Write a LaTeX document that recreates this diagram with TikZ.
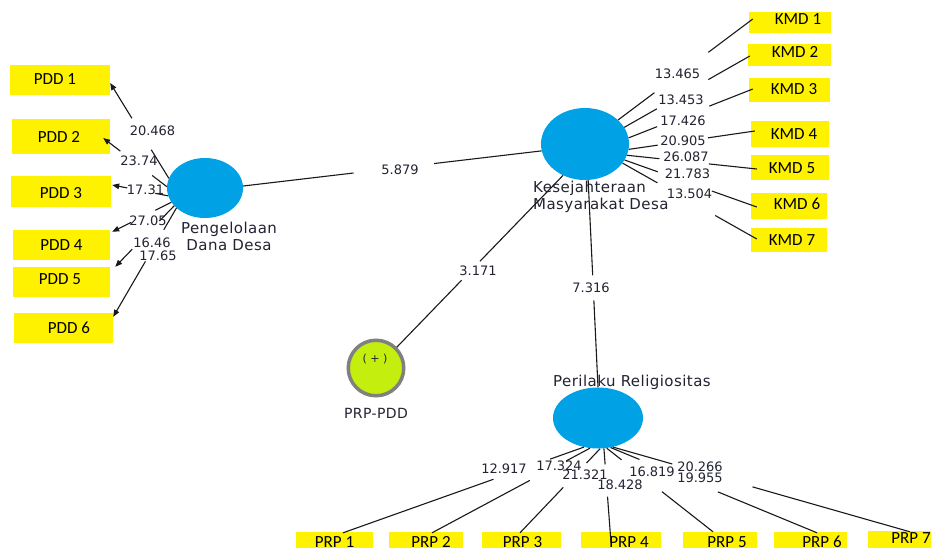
\documentclass[tikz,border=0pt]{standalone}
\usepackage{fontspec}
\usetikzlibrary{shapes.geometric,arrows.meta,calc}
\newfontfamily\numfont{DejaVu Sans}
\newfontfamily\lblfont[LetterSpace=3]{DejaVu Sans}
\newfontfamily\boxfont{Carlito}
\definecolor{lvblue}{RGB}{0,162,229}
\definecolor{indyel}{RGB}{255,242,0}
\definecolor{modlime}{RGB}{196,238,14}
\definecolor{modgray}{RGB}{128,128,128}
\definecolor{txtdark}{RGB}{35,35,50}
\definecolor{lncol}{RGB}{25,25,25}
\newcommand\bt[3]{\hspace*{#1}\raisebox{#2}{#3}\hspace*{-#1}}
\newcommand\gapln[5][]{\draw[ln,#1] (#2) -- ($(#2)!#4!(#3)$) ($(#2)!#5!(#3)$) -- (#3);}
\tikzset{
  ln/.style={draw=lncol, line width=1.1pt},
  arr/.style={-{Triangle[length=7pt,width=5.5pt]}},
  lv/.style={ellipse, fill=lvblue, draw=none, inner sep=0pt},
  ind/.style={rectangle, fill=indyel, draw=none, inner sep=0pt,
    font=\boxfont\fontsize{17}{17}\selectfont, text=black,
    text height=11pt, text depth=0pt},
  num/.style={font=\numfont\fontsize{13}{13}\selectfont, text=txtdark, inner sep=0pt},
  cname/.style={font=\lblfont\fontsize{15}{17}\selectfont, text=txtdark, inner sep=0pt},
}
\begin{document}
\begin{tikzpicture}[x=1pt,y=-1pt]
\useasboundingbox (0,0) rectangle (931,547);
\clip (0,0) rectangle (931,547);
\fill[white] (0,0) rectangle (931,547);

% indicator boxes: PDD
\node[ind, minimum width=100pt, minimum height=30pt] (p1) at (60,80)    {\bt{-5pt}{1pt}{PDD 1}};
\node[ind, minimum width=98pt,  minimum height=35pt] (p2) at (61,136.5) {\bt{-2pt}{0pt}{PDD 2}};
\node[ind, minimum width=100pt, minimum height=31pt] (p3) at (61,191.5) {\bt{0pt}{-1.5pt}{PDD 3}};
\node[ind, minimum width=97pt,  minimum height=30pt] (p4) at (61.5,245) {\bt{0pt}{0pt}{PDD 4}};
\node[ind, minimum width=97pt,  minimum height=30pt] (p5) at (61.5,282) {\bt{-1.5pt}{3pt}{PDD 5}};
\node[ind, minimum width=99pt,  minimum height=30pt] (p6) at (63.5,328) {\bt{5.5pt}{0pt}{PDD 6}};

% indicator boxes: KMD
\node[ind, minimum width=82pt, minimum height=21pt] (k1) at (790,22.5)  {\bt{8pt}{3.5pt}{KMD 1}};
\node[ind, minimum width=83pt, minimum height=22pt] (k2) at (789.5,55)  {\bt{5.5pt}{3pt}{KMD 2}};
\node[ind, minimum width=81pt, minimum height=24pt] (k3) at (789.5,90)  {\bt{4.5pt}{1pt}{KMD 3}};
\node[ind, minimum width=78pt, minimum height=26pt] (k4) at (790,134)   {\bt{4pt}{0pt}{KMD 4}};
\node[ind, minimum width=78pt, minimum height=25pt] (k5) at (790,167.5) {\bt{2pt}{0pt}{KMD 5}};
\node[ind, minimum width=76pt, minimum height=26pt] (k6) at (789,206)   {\bt{8pt}{2.5pt}{KMD 6}};
\node[ind, minimum width=76pt, minimum height=24pt] (k7) at (789,240)   {\bt{3pt}{0pt}{KMD 7}};

% indicator boxes: PRP
\node[ind, minimum width=77pt, minimum height=20pt] (r1) at (334.5,542) {\bt{0pt}{0pt}{PRP 1}};
\node[ind, minimum width=74pt, minimum height=20pt] (r2) at (426,542)   {\bt{5pt}{0pt}{PRP 2}};
\node[ind, minimum width=79pt, minimum height=20pt] (r3) at (521.5,542) {\bt{1pt}{0pt}{PRP 3}};
\node[ind, minimum width=80pt, minimum height=20pt] (r4) at (621,542)   {\bt{8pt}{0pt}{PRP 4}};
\node[ind, minimum width=74pt, minimum height=20pt] (r5) at (720,542)   {\bt{7pt}{0pt}{PRP 5}};
\node[ind, minimum width=73pt, minimum height=20pt] (r6) at (810.5,542) {\bt{11.5pt}{0pt}{PRP 6}};
\node[ind, minimum width=72pt, minimum height=20pt] (r7) at (904,541)   {\bt{7pt}{3.5pt}{PRP 7}};

% latent variables
\node[lv, minimum width=76pt, minimum height=60pt] (pdd) at (205,188) {};
\node[lv, minimum width=88pt, minimum height=72pt] (kmd) at (585,144) {};
\node[lv, minimum width=90pt, minimum height=61pt] (prp) at (598,418) {};
\node[circle, fill=modlime, draw=modgray, line width=3.5pt, minimum size=55.5pt, inner sep=0pt] (mod) at (376,368) {};
\node[font=\numfont\fontsize{11}{11}\selectfont, text=txtdark, inner sep=0pt] (plus) at (375,359) {( + )};

% construct names
\node[cname, align=center] (pddlbl) at (229,236.5) {Pengelolaan\\Dana Desa};
\node[cname, align=left, anchor=west] (kmdlbl) at (533,197) {Kesejahteraan\\Masyarakat Desa};
\node[cname] (prplbl) at (632,382) {Perilaku Religiositas};
\node[cname, font=\lblfont\fontsize{14}{16}\selectfont] (modlbl) at (376,413) {PRP-PDD};

% connector end points
\coordinate (e1) at ([yshift=-3pt]p1.east);
\coordinate (e2) at ([xshift=-7pt,yshift=-1.5pt]p2.east);
\coordinate (e3) at ([xshift=1pt,yshift=6.5pt]p3.east);
\coordinate (e4) at ([xshift=2pt,yshift=-2pt]p4.north east);
\coordinate (e5) at ([xshift=5pt]p5.north east);
\coordinate (e6) at ([yshift=-4pt]p6.north east);
\coordinate (ek1) at ([xshift=4pt,yshift=3.5pt]k1.west);
\coordinate (ek2) at ([xshift=2pt,yshift=-1pt]k2.west);
\coordinate (ek3) at ([xshift=4pt,yshift=1pt]k3.west);
\coordinate (ek4) at ([xshift=4pt,yshift=3pt]k4.west);
\coordinate (ek5) at ([xshift=6pt,yshift=-1.5pt]k5.west);
\coordinate (ek6) at ([xshift=6pt,yshift=-1pt]k6.west);
\coordinate (ek7) at ([xshift=6pt,yshift=1pt]k7.west);
\coordinate (er1) at ([xshift=8.5pt,yshift=-1pt]r1.north);
\coordinate (er2) at ([xshift=6pt,yshift=-1pt]r2.north);
\coordinate (er3) at ([xshift=-1.5pt,yshift=-1pt]r3.north);
\coordinate (er4) at ([xshift=-10pt,yshift=-11pt]r4.north);
\coordinate (er5) at ([xshift=-7pt]r5.north);
\coordinate (er6) at ([xshift=6.5pt,yshift=-1pt]r6.north);
\coordinate (er7) at ([xshift=6pt,yshift=-1pt]r7.north);

% outer model: PDD
\gapln[arr]{pdd.165}{e1}{0.30}{0.63}
\gapln[arr]{pdd.178}{e2}{0.23}{0.73}
\gapln[arr]{pdd.192}{e3}{0.23}{0.73}
\gapln[arr]{pdd.203}{e4}{0.27}{0.68}
\gapln[arr]{pdd.210}{e5}{0.25}{0.71}
\gapln[arr]{pdd.215}{e6}{0.20}{0.49}
% outer model: KMD
\gapln{kmd.36}{ek1}{0.27}{0.67}
\gapln{kmd.23}{ek2}{0.26}{0.67}
\gapln{kmd.8}{ek3}{0.23}{0.65}
\gapln{kmd.353}{ek4}{0.23}{0.63}
\gapln{kmd.345}{ek5}{0.25}{0.63}
\gapln{kmd.338}{ek6}{0.25}{0.66}
\gapln{kmd.333}{ek7}{0.26}{0.69}
% inner model
\gapln{pdd.3}{kmd.189}{0.37}{0.64}
\gapln{mod.45}{kmd.235}{0.39}{0.50}
\gapln{kmd.275}{prp.north}{0.46}{0.58}
% outer model: PRP
\gapln{prp.244}{er1}{0.14}{0.375}
\gapln{prp.255}{er2}{0.15}{0.38}
\gapln{prp.274}{er3}{0.17}{0.46}
\gapln{prp.281}{er4}{0.17}{0.51}
\gapln{prp.286}{er5}{0.14}{0.52}
\gapln{prp.293}{er6}{0.14}{0.52}
\gapln{prp.297}{er7}{0.20}{0.47}

% path values
\node[num] (l1) at (152.5,130.5) {20.468};
\node[num] (l2) at (139,161) {23.74};
\node[num] (l3) at (145.5,189.5) {17.31};
\node[num] (l4) at (148,220.5) {27.05};
\node[num] (l5) at (152,243) {16.46};
\node[num] (l6) at (158,256) {17.65};
\node[num] (l7) at (677.5,74) {13.465};
\node[num] (l8) at (681,100) {13.453};
\node[num] (l9) at (683,120.5) {17.426};
\node[num] (l10) at (683,141) {20.905};
\node[num] (l11) at (686,157) {26.087};
\node[num] (l12) at (687.5,173.5) {21.783};
\node[num] (l13) at (689.5,194) {13.504};
\node[num] (l14) at (400,170) {5.879};
\node[num] (l15) at (478,271) {3.171};
\node[num] (l16) at (591,288) {7.316};
\node[num] (l17) at (504,468.5) {12.917};
\node[num] (l18) at (559,466) {17.324};
\node[num] (l19) at (585,475) {21.321};
\node[num] (l20) at (620,484.5) {18.428};
\node[num] (l21) at (652,472) {16.819};
\node[num] (l22) at (700,478) {19.955};
\node[num] (l23) at (700,467) {20.266};
\end{tikzpicture}
\end{document}
